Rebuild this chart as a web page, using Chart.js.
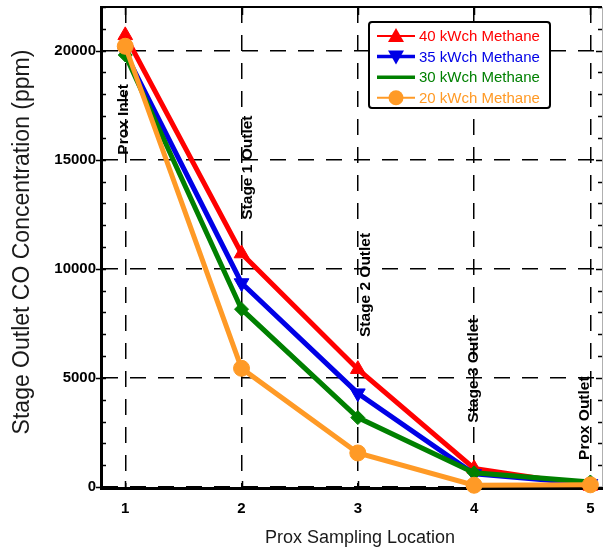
<!DOCTYPE html>
<html>
<head>
<meta charset="utf-8">
<script src="https://cdn.jsdelivr.net/npm/chart.js@4"></script>
<style>
  html, body { margin: 0; padding: 0; background: #ffffff; }
  #wrap { width: 607px; height: 550px; }
</style>
</head>
<body>
<div id="wrap"><canvas id="c" width="607" height="550"></canvas></div>
<script>
// Sampling locations along the PROX reactor train
const locations = [1, 2, 3, 4, 5];
const stageNames = ['Prox Inlet', 'Stage 1 Outlet', 'Stage 2 Outlet', 'Stage 3 Outlet', 'Prox Outlet'];

// CO concentration (ppm) at each location, per methane feed rate
const seriesNames = ['40 kWch Methane', '35 kWch Methane', '30 kWch Methane', '20 kWch Methane'];
const co40 = [20700, 10700, 5400, 850, 50];
const co35 = [19900, 9350, 4300, 600, 150];
const co30 = [19800, 8150, 3180, 650, 230];
const co20 = [20200, 5440, 1560, 80, 100];

// Axis ticks
const xTickValues = [1, 2, 3, 4, 5];
const yTickValues = [0, 5000, 10000, 15000, 20000];

const FONT = "'Liberation Sans', Arial, Helvetica, sans-serif";
const COLORS = ['#ff0000', '#0000e6', '#008000', '#ff9a26'];

function makeSeries(name, values, color, style, radius, rotation, order) {
  return {
    label: name,
    data: locations.map((x, i) => ({ x: x, y: values[i] })),
    borderColor: color,
    backgroundColor: color,
    borderWidth: 5,
    pointStyle: style,
    pointRadius: radius,
    pointHoverRadius: radius,
    pointRotation: rotation,
    pointBackgroundColor: color,
    pointBorderColor: color,
    pointBorderWidth: 1,
    tension: 0,
    clip: false,
    order: order
  };
}

// Placement of the rotated stage captions: dx = pixel offset of the baseline
// from the location's gridline, y = data value where the caption starts
const captionPlacement = [
  { dx: 3, y: 15230 },
  { dx: 10, y: 12250 },
  { dx: 12, y: 6870 },
  { dx: 4, y: 2950 },
  { dx: -1, y: 1240 }
];

const framePlugin = {
  id: 'frame',
  beforeDatasetsDraw(chart) {
    const { ctx, chartArea: a, scales: { x, y } } = chart;
    ctx.save();
    ctx.strokeStyle = '#000';
    ctx.lineWidth = 1.5;
    // y-axis tick marks: minor every 1000 inward, major every 5000 outward on the left
    for (let v = y.min; v <= y.max; v += 1000) {
      const py = Math.round(y.getPixelForValue(v)) + 0.5;
      const major = v % 5000 === 0;
      ctx.beginPath();
      if (major) {
        ctx.moveTo(a.left - 6, py); ctx.lineTo(a.left + 4, py);
      } else {
        ctx.moveTo(a.left, py); ctx.lineTo(a.left + 4, py);
      }
      ctx.moveTo(a.right, py); ctx.lineTo(a.right - (major ? 6 : 4), py);
      ctx.stroke();
    }
    // x-axis tick marks on top and bottom
    xTickValues.forEach(v => {
      const px = Math.round(x.getPixelForValue(v)) + 0.5;
      ctx.beginPath();
      ctx.moveTo(px, a.bottom); ctx.lineTo(px, a.bottom - 6);
      ctx.moveTo(px, a.top); ctx.lineTo(px, a.top + 8);
      ctx.stroke();
    });
    // plot frame
    ctx.lineWidth = 1;
    ctx.strokeStyle = '#b0b0b0';
    ctx.beginPath();
    ctx.moveTo(a.right + 0.5, a.top); ctx.lineTo(a.right + 0.5, a.bottom);
    ctx.stroke();
    ctx.strokeStyle = '#000';
    ctx.lineWidth = 2;
    ctx.beginPath();
    ctx.moveTo(a.left, a.top); ctx.lineTo(a.right, a.top);
    ctx.stroke();
    ctx.lineWidth = 3;
    ctx.beginPath();
    ctx.moveTo(a.left - 0.5, a.top - 1); ctx.lineTo(a.left - 0.5, a.bottom + 1.5);
    ctx.lineTo(a.right + 1, a.bottom + 1.5);
    ctx.stroke();
    ctx.restore();
  },
  afterDatasetsDraw(chart) {
    const { ctx, scales: { x, y } } = chart;
    ctx.save();
    // rotated stage captions
    ctx.fillStyle = '#000';
    ctx.font = "bold 15.5px " + FONT;
    ctx.textAlign = 'left';
    ctx.textBaseline = 'alphabetic';
    stageNames.forEach((name, i) => {
      const p = captionPlacement[i];
      ctx.save();
      ctx.translate(x.getPixelForValue(locations[i]) + p.dx, y.getPixelForValue(p.y));
      ctx.rotate(-Math.PI / 2);
      ctx.fillText(name, 0, 0);
      ctx.restore();
    });
    ctx.restore();
  },
  afterDraw(chart) {
    const { ctx, chartArea: a } = chart;
    ctx.save();
    // axis titles
    ctx.fillStyle = '#1a1a1a';
    ctx.textAlign = 'center';
    ctx.textBaseline = 'middle';
    ctx.font = "18px " + FONT;
    ctx.fillText('Prox Sampling Location', 360, 538);
    ctx.font = "23px " + FONT;
    ctx.translate(22.5, (a.top + a.bottom) / 2 - 5);
    ctx.rotate(-Math.PI / 2);
    ctx.fillText('Stage Outlet CO Concentration (ppm)', 0, 0);
    ctx.restore();

    // legend box
    const bx = a.right - 233, by = a.top + 15, bw = 181, bh = 86;
    ctx.save();
    ctx.fillStyle = '#fff';
    ctx.strokeStyle = '#000';
    ctx.lineWidth = 2;
    ctx.beginPath();
    ctx.roundRect(bx, by, bw, bh, 3);
    ctx.fill();
    ctx.stroke();
    const lineW = [2, 3.5, 3.5, 2];
    chart.data.datasets.forEach((ds, i) => {
      const cy = by + 14 + i * 20.6;
      const x0 = bx + 8, x1 = bx + 46, cx = (x0 + x1) / 2;
      ctx.strokeStyle = ds.borderColor;
      ctx.fillStyle = ds.borderColor;
      ctx.lineWidth = lineW[i];
      ctx.beginPath();
      ctx.moveTo(x0, cy); ctx.lineTo(x1, cy);
      ctx.stroke();
      ctx.beginPath();
      if (ds.pointStyle === 'triangle') {
        const dir = ds.pointRotation ? 1 : -1;
        ctx.moveTo(cx, cy + dir * 8);
        ctx.lineTo(cx - 8, cy - dir * 6);
        ctx.lineTo(cx + 8, cy - dir * 6);
        ctx.closePath();
        ctx.fill();
      } else if (ds.pointStyle === 'circle') {
        ctx.arc(cx, cy, 7.5, 0, Math.PI * 2);
        ctx.fill();
      }
      ctx.font = "15px " + FONT;
      ctx.textAlign = 'left';
      ctx.textBaseline = 'middle';
      ctx.fillText(ds.label, bx + 50, cy + 1);
    });
    ctx.restore();
  }
};

const dash = [16, 12];

new Chart(document.getElementById('c'), {
  type: 'line',
  data: {
    datasets: [
      makeSeries(seriesNames[0], co40, COLORS[0], 'triangle', 8.5, 0, 4),
      makeSeries(seriesNames[1], co35, COLORS[1], 'triangle', 8.5, 180, 3),
      makeSeries(seriesNames[2], co30, COLORS[2], 'rectRot', 7, 0, 2),
      makeSeries(seriesNames[3], co20, COLORS[3], 'circle', 8, 0, 1)
    ]
  },
  plugins: [framePlugin],
  options: {
    responsive: false,
    animation: false,
    devicePixelRatio: 1,
    layout: { autoPadding: false, padding: { left: 0, top: 7, right: 5, bottom: 0 } },
    plugins: {
      legend: { display: false },
      tooltip: { enabled: false },
      title: { display: false }
    },
    scales: {
      x: {
        type: 'linear',
        min: 0.8,
        max: 5.1,
        afterBuildTicks: s => { s.ticks = xTickValues.map(v => ({ value: v })); },
        afterFit: s => { s.height = 63; s.paddingLeft = 0; s.paddingRight = 0; },
        grid: { color: '#000', lineWidth: 1.5, drawTicks: false },
        border: { display: false, dash: dash },
        ticks: {
          color: '#000',
          padding: 13,
          font: { family: FONT, size: 15, weight: 'bold' },
          callback: v => String(v)
        },
        title: { display: false }
      },
      y: {
        type: 'linear',
        min: 0,
        max: 22000,
        afterBuildTicks: s => { s.ticks = yTickValues.map(v => ({ value: v })); },
        afterFit: s => { s.width = 102; s.paddingTop = 0; s.paddingBottom = 0; },
        grid: { color: '#000', lineWidth: 1.5, drawTicks: false },
        border: { display: false, dash: dash },
        ticks: {
          color: '#000',
          padding: 6,
          font: { family: FONT, size: 15, weight: 'bold' },
          callback: v => String(v)
        }
      }
    }
  }
});
</script>
</body>
</html>
